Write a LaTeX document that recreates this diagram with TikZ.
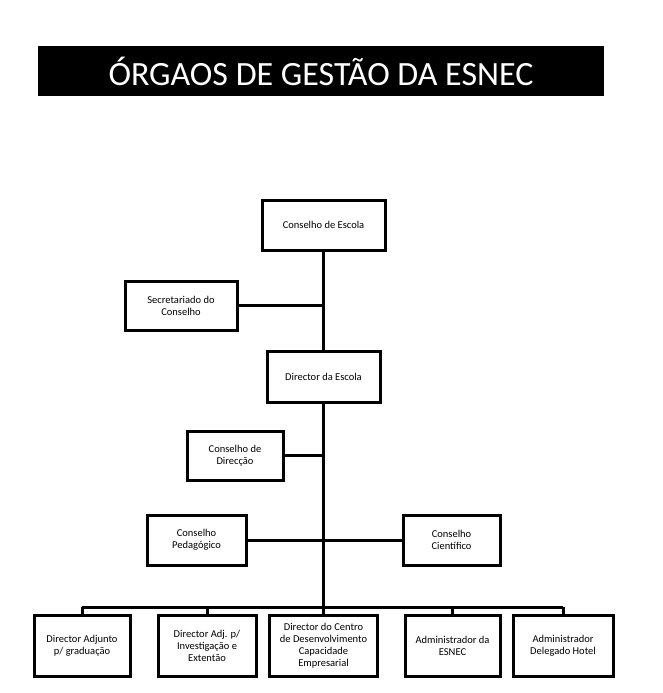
\documentclass[tikz,border=0pt]{standalone}
\usepackage{fontspec}
\setmainfont{Carlito}
\begin{document}
\begin{tikzpicture}[x=1pt,y=-1pt,
  box/.style={draw,line width=3pt,align=center,font=\fontsize{10.5}{12}\selectfont,inner sep=2pt},
  ln/.style={line width=3pt}]
\useasboundingbox (0,0) rectangle (663,693);
\node[fill=black,minimum width=566,minimum height=50,inner sep=0,text=white,font=\fontsize{34}{36}\selectfont] (t) at (321,71) {ÓRGAOS DE GESTÃO DA ESNEC};
\node[box,minimum width=123,minimum height=50] (ce) at (323.5,225) {Conselho de Escola};
\node[box,minimum width=112,minimum height=49] (sc) at (181,305.5) {Secretariado do\\Conselho};
\node[box,minimum width=113,minimum height=51] (de) at (323.5,376.5) {Director da Escola};
\node[box,minimum width=96,minimum height=49] (cd) at (235,455.5) {Conselho de\\Direcção};
\node[box,minimum width=99,minimum height=50] (cp) at (196.5,540) {Conselho\\Pedagógico};
\node[box,minimum width=97,minimum height=50] (cc) at (451.5,540) {Conselho\\Científico};
\node[box,minimum width=96,minimum height=61] (b1) at (82,645.5) {Director Adjunto\\p/ graduação};
\node[box,minimum width=98,minimum height=61] (b2) at (207,645.5) {Director Adj. p/\\Investigação e\\Extentão};
\node[box,minimum width=108,minimum height=61] (b3) at (323.5,645.5) {Director do Centro\\de Desenvolvimento\\Capacidade\\Empresarial};
\node[box,minimum width=95,minimum height=61] (b4) at (452.5,645.5) {Administrador da\\ESNEC};
\node[box,minimum width=100,minimum height=61] (b5) at (563,645.5) {Administrador\\Delegado Hotel};
\coordinate (bus) at (323.5,607);
\draw[ln] (ce.south) -- (de.north);
\draw[ln] (de.south) -- (bus);
\draw[ln] (sc.east) -- (sc.east -| ce.south);
\draw[ln] (cd.east) -- (cd.east -| de.south);
\draw[ln] (cp.east) -- (cc.west);
\draw[ln] (bus -| b1.north) -- (bus -| b5.north);
\foreach \b in {b1,b2,b3,b4,b5} \draw[ln] (bus -| \b.north) -- (\b.north);
\end{tikzpicture}
\end{document}
